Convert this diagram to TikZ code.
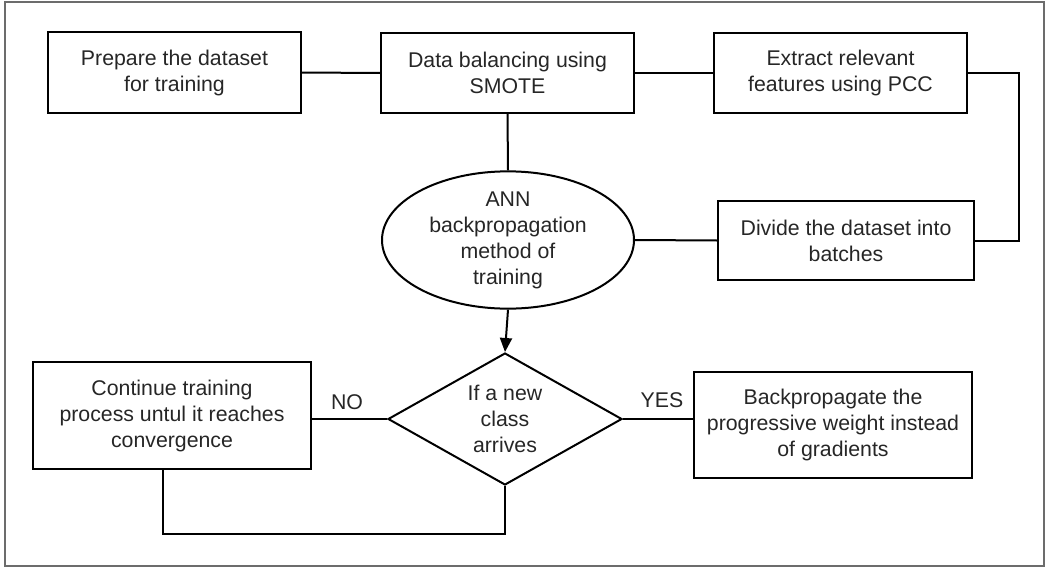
\documentclass[tikz,border=0pt]{standalone}
\usepackage{fontspec}
\setmainfont{Liberation Sans}
\usetikzlibrary{shapes.geometric,arrows.meta}
\begin{document}
\begin{tikzpicture}[x=1pt,y=-1pt,
  every node/.style={font=\fontsize{21.3}{26}\selectfont, text=black!85},
  box/.style={draw=black, line width=2pt, rectangle, inner sep=0pt, align=center},
  oval/.style={draw=black, line width=2pt, ellipse, inner sep=0pt, align=center},
  decision/.style={draw=black, line width=2pt, diamond, inner sep=0pt, align=center},
  conn/.style={draw=black, line width=2pt},
  lbl/.style={inner sep=0pt}]
\useasboundingbox (0,0) rectangle (1047,570);
\draw[gray!85!black, line width=1.5pt] (5,2) rectangle (1044,566);
\node[box, minimum width=253pt, minimum height=81pt] (b1) at (174.5,72.5) {Prepare the dataset\\for training};
\node[box, minimum width=253pt, minimum height=80pt] (b2) at (507.5,73) {Data balancing using\\SMOTE};
\node[box, minimum width=253pt, minimum height=80pt] (b3) at (840.5,73) {Extract relevant\\features using PCC};
\node[box, minimum width=256pt, minimum height=79pt] (b4) at (846,240.5) {Divide the dataset into\\batches};
\node[oval, minimum width=252pt, minimum height=134pt] (ann) at (508,240) {ANN\\backpropagation\\method of\\training};
\node[decision, minimum width=234pt, minimum height=132pt, aspect=1.77] (dec) at (505,419) {If a new\\class\\arrives};
\node[box, minimum width=278pt, minimum height=107pt] (cont) at (172,415.5) {Continue training\\process untul it reaches\\convergence};
\node[box, minimum width=278pt, minimum height=106pt] (bp) at (833,425) {Backpropagate the\\progressive weight instead\\of gradients};
\node[lbl] (no) at (347,402) {NO};
\node[lbl] (yes) at (662,400) {YES};
\coordinate (r1) at (1019,73);
\coordinate (lp) at (163,534);
\draw[conn] (b1.east) -- (b2.west);
\draw[conn] (b2.east) -- (b3.west);
\draw[conn] (b2.south) -- (ann.north);
\draw[conn] (b3.east) -- (r1) |- (b4.east);
\draw[conn] (ann.east) -- (b4.west);
\draw[conn, -{Triangle[length=14pt,width=12pt]}] (ann.south) -- (dec.north);
\draw[conn] (dec.west) -- (dec.west -| cont.east);
\draw[conn] (dec.east) -- (dec.east -| bp.west);
\draw[conn] (lp |- cont.south) -- (lp) -| (dec.south);
\end{tikzpicture}
\end{document}
